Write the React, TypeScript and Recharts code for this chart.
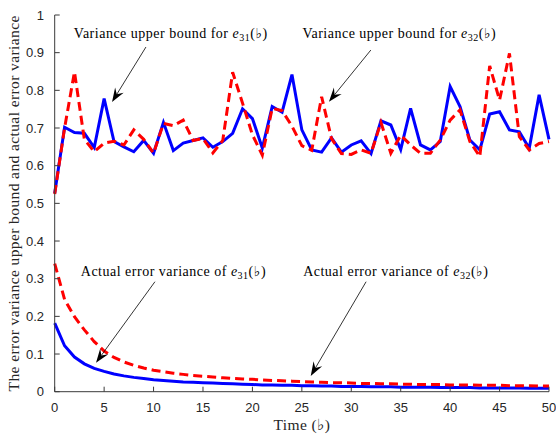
import React from 'react';
import { LineChart, Line, XAxis, YAxis, ReferenceLine, ReferenceDot } from 'recharts';

const times = [
  0, 1, 2, 3, 4, 5, 6, 7, 8, 9, 10, 11, 12, 13, 14, 15, 16, 17, 18, 19, 20, 21, 22, 23, 24, 25,
  26, 27, 28, 29, 30, 31, 32, 33, 34, 35, 36, 37, 38, 39, 40, 41, 42, 43, 44, 45, 46, 47, 48, 49, 50,
];

// variance upper bounds
const upperE31 = [
  0.527, 0.702, 0.688, 0.686, 0.648, 0.778, 0.664, 0.650, 0.637, 0.667,
  0.633, 0.715, 0.640, 0.660, 0.667, 0.674, 0.649, 0.664, 0.686, 0.751,
  0.725, 0.647, 0.757, 0.742, 0.842, 0.695, 0.642, 0.636, 0.674, 0.636,
  0.655, 0.666, 0.632, 0.719, 0.708, 0.643, 0.752, 0.655, 0.642, 0.664,
  0.810, 0.757, 0.668, 0.642, 0.737, 0.743, 0.695, 0.690, 0.646, 0.788,
  0.670,
];
const upperE32 = [
  0.525, 0.700, 0.849, 0.670, 0.637, 0.660, 0.665, 0.655, 0.695, 0.670,
  0.633, 0.712, 0.706, 0.721, 0.667, 0.672, 0.634, 0.667, 0.848, 0.766,
  0.682, 0.628, 0.752, 0.746, 0.705, 0.653, 0.641, 0.783, 0.672, 0.632,
  0.630, 0.642, 0.633, 0.715, 0.633, 0.681, 0.655, 0.633, 0.633, 0.668,
  0.721, 0.748, 0.664, 0.624, 0.865, 0.774, 0.898, 0.677, 0.642, 0.659,
  0.664,
];

// actual error variances
const actualE31 = [
  0.182, 0.122, 0.092, 0.074, 0.062, 0.054, 0.047, 0.042, 0.038, 0.035,
  0.032, 0.030, 0.028, 0.026, 0.025, 0.024, 0.023, 0.022, 0.021, 0.020,
  0.019, 0.018, 0.018, 0.017, 0.017, 0.016, 0.016, 0.015, 0.015, 0.014,
  0.014, 0.014, 0.013, 0.013, 0.013, 0.012, 0.012, 0.012, 0.012, 0.011,
  0.011, 0.011, 0.011, 0.010, 0.010, 0.010, 0.010, 0.010, 0.009, 0.009,
  0.009,
];
const actualE32 = [
  0.340, 0.245, 0.199, 0.164, 0.133, 0.108, 0.091, 0.079, 0.070, 0.063,
  0.057, 0.053, 0.049, 0.046, 0.043, 0.041, 0.039, 0.037, 0.035, 0.034,
  0.033, 0.031, 0.030, 0.029, 0.028, 0.027, 0.026, 0.025, 0.024, 0.024,
  0.023, 0.022, 0.022, 0.021, 0.021, 0.020, 0.020, 0.019, 0.019, 0.019,
  0.018, 0.018, 0.018, 0.017, 0.017, 0.017, 0.016, 0.016, 0.016, 0.015,
  0.015,
];

const xTicks = [0, 5, 10, 15, 20, 25, 30, 35, 40, 45, 50];
const yTicks = [0, 0.1, 0.2, 0.3, 0.4, 0.5, 0.6, 0.7, 0.8, 0.9, 1];

const data = times.map((t, i) => ({
  t,
  ub31: upperE31[i],
  ub32: upperE32[i],
  act31: actualE31[i],
  act32: actualE32[i],
}));

// annotation text (centre/baseline) and arrow tail -> tip, in data units
const notes = [
  { prefix: 'Variance upper bound for ', sub: '31', at: [11.74, 0.938], tail: [9.23, 0.915], tip: [5.8, 0.769] },
  { prefix: 'Variance upper bound for ', sub: '32', at: [34.86, 0.938], tail: [31.98, 0.907], tip: [27.74, 0.77] },
  { prefix: 'Actual error variance of ', sub: '31', at: [12.01, 0.308], tail: [10.14, 0.292], tip: [4.18, 0.077] },
  { prefix: 'Actual error variance of ', sub: '32', at: [34.5, 0.307], tail: [31.5, 0.292], tip: [25.9, 0.042] },
];

const SERIF = "'Liberation Serif', 'DejaVu Serif', serif";
const SANS = "'Liberation Sans', Arial, sans-serif";
const AXIS = '#3a3a3a';

const Arrow = (p: any) => {
  const { x1, y1, x2, y2 } = p;
  const a = Math.atan2(y2 - y1, x2 - x1);
  const ux = Math.cos(a), uy = Math.sin(a);
  const L = 14, W = 5, N = 9;
  const bx = x2 - ux * L, by = y2 - uy * L;
  const nx = x2 - ux * N, ny = y2 - uy * N;
  const pts = [
    [x2, y2],
    [bx - uy * W, by + ux * W],
    [nx, ny],
    [bx + uy * W, by - ux * W],
  ].map((q) => q.join(',')).join(' ');
  return (
    <g>
      <line x1={x1} y1={y1} x2={nx} y2={ny} stroke="#000" strokeWidth={0.8} />
      <polygon points={pts} fill="#000" />
    </g>
  );
};

const noteText = (prefix: string, sub: string) => (p: any) => (
  <text x={p.cx} y={p.cy} textAnchor="middle" fontFamily={SERIF} fontSize={14} letterSpacing={0.5} fill="#000">
    {prefix}
    <tspan fontStyle="italic">e</tspan>
    <tspan fontSize={10} dy={3}>{sub}</tspan>
    <tspan dy={-3}>(♭)</tspan>
  </text>
);

const YLabel = (p: any) => {
  const vb = p.viewBox || {};
  const cx = (vb.x || 0) + 14;
  const cy = (vb.y || 0) + (vb.height || 0) / 2;
  return (
    <text
      x={cx}
      y={cy}
      transform={`rotate(-90 ${cx} ${cy})`}
      textAnchor="middle"
      dominantBaseline="central"
      fontFamily={SERIF}
      fontSize={15.5}
      letterSpacing={0.4}
      fill="#262626"
    >
      The error variance upper bound and actual error variance
    </text>
  );
};

export default function App() {
  const tickStyle = { fill: '#262626', fontSize: 13, fontFamily: SANS };
  return (
    <div style={{ position: 'absolute', left: 0, top: 0, width: 556, height: 436, background: '#fff' }}>
      <LineChart width={556} height={436} data={data} margin={{ top: 15, right: 7, bottom: 0, left: 0 }}>
        <XAxis
          dataKey="t"
          type="number"
          domain={[0, 50]}
          ticks={xTicks}
          height={44.3}
          tickSize={-5}
          tickMargin={16.5}
          tick={tickStyle}
          stroke={AXIS}
          label={{
            value: 'Time (♭)',
            position: 'insideBottom',
            offset: 6,
            style: { fontFamily: SERIF, fontSize: 15.5, letterSpacing: 0.4, fill: '#262626' },
          }}
        />
        <XAxis
          xAxisId="top"
          orientation="top"
          dataKey="t"
          type="number"
          domain={[0, 50]}
          ticks={xTicks}
          height={0}
          tickSize={-5}
          tickFormatter={() => ''}
          stroke={AXIS}
        />
        <YAxis
          type="number"
          domain={[0, 1]}
          ticks={yTicks}
          width={54.7}
          tickSize={-5}
          tickMargin={15.7}
          tick={tickStyle}
          stroke={AXIS}
          label={YLabel}
        />
        <YAxis
          yAxisId="right"
          orientation="right"
          type="number"
          domain={[0, 1]}
          ticks={yTicks}
          width={0}
          tickSize={-5}
          tickFormatter={() => ''}
          stroke={AXIS}
        />
        <Line dataKey="ub31" stroke="#0000ff" strokeWidth={3} dot={false} isAnimationActive={false} />
        <Line dataKey="act31" stroke="#0000ff" strokeWidth={3} dot={false} isAnimationActive={false} />
        <Line dataKey="ub32" stroke="#ff0000" strokeWidth={3} strokeDasharray="9 5" dot={false} isAnimationActive={false} />
        <Line dataKey="act32" stroke="#ff0000" strokeWidth={3} strokeDasharray="9 5" dot={false} isAnimationActive={false} />
        {notes.map((n, i) => (
          <ReferenceLine
            key={`arrow-${i}`}
            segment={[{ x: n.tail[0], y: n.tail[1] }, { x: n.tip[0], y: n.tip[1] }]}
            shape={Arrow}
          />
        ))}
        {notes.map((n, i) => (
          <ReferenceDot key={`note-${i}`} x={n.at[0]} y={n.at[1]} r={0} shape={noteText(n.prefix, n.sub)} />
        ))}
      </LineChart>
    </div>
  );
}
